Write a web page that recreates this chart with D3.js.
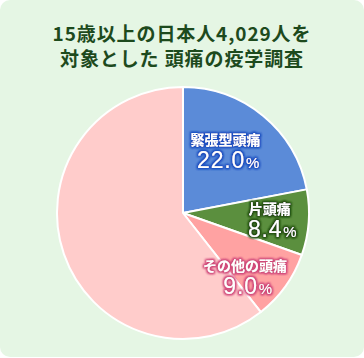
<!DOCTYPE html>
<html><head><meta charset="utf-8">
<script src="https://cdn.jsdelivr.net/npm/d3@7"></script>
<style>
html,body{margin:0;padding:0;background:#fff;}
svg{display:block;}
text{font-family:"Noto Sans CJK JP","Noto Sans",sans-serif;}
</style></head>
<body>
<svg id="c" width="364" height="358"></svg>
<script>
const titleLines = ["15歳以上の日本人4,029人を", "対象とした 頭痛の疫学調査"];
const categories = ["緊張型頭痛", "片頭痛", "その他の頭痛", "頭痛なし"];
const values = [22.0, 8.4, 9.0, 60.6];
const showLabel = [true, true, true, false];
const colors = ["#5b8bd8", "#5b8f3e", "#ffa2a2", "#ffcccb"];
const glowColors = ["#1f4fc0", "#244d12", "#d0487a", "#000"];
// label placement: [radius fraction, angle offset in degrees from slice mid-angle]
const labelPlace = [[0.60, -5.3], [0.69, 0.3], [0.71, 10.4], [0, 0]];

const W = 364, H = 358;
const svg = d3.select("#c");
svg.append("rect").attr("x",0).attr("y",0).attr("width",W).attr("height",H-1)
  .attr("rx",10).attr("ry",10).attr("fill","#e5f6e4");

const defs = svg.append("defs");
glowColors.forEach((c,i)=>{
  const f = defs.append("filter").attr("id","glow"+i)
    .attr("x","-20%").attr("y","-40%").attr("width","140%").attr("height","180%");
  f.append("feMorphology").attr("in","SourceAlpha").attr("operator","dilate").attr("radius",1.3).attr("result","d");
  f.append("feGaussianBlur").attr("in","d").attr("stdDeviation",1.3).attr("result","b");
  f.append("feFlood").attr("flood-color",c).attr("result","fc");
  f.append("feComposite").attr("in","fc").attr("in2","b").attr("operator","in").attr("result","g");
  const m = f.append("feMerge");
  m.append("feMergeNode").attr("in","g");
  m.append("feMergeNode").attr("in","g");
  m.append("feMergeNode").attr("in","SourceGraphic");
});

svg.append("g").selectAll("text").data(titleLines).join("text")
  .attr("x", 182).attr("y",(d,i)=>41+i*24.5)
  .attr("text-anchor","middle").attr("font-size",19).attr("font-weight",700)
  .attr("letter-spacing",0.9)
  .attr("fill","#1d4a1d").text(d=>d);

const cx = 183, cy = 213, R = 126;
const data = categories.map((c,i)=>({cat:c, value:values[i], i}));
const pie = d3.pie().sort(null).value(d=>d.value);
const arcs = pie(data);
const arc = d3.arc().innerRadius(0).outerRadius(R);
const g = svg.append("g").attr("transform",`translate(${cx},${cy})`);
g.selectAll("path").data(arcs).join("path")
  .attr("d",arc).attr("fill",d=>colors[d.data.i])
  .attr("stroke","#fff").attr("stroke-width",2).attr("stroke-linejoin","round");

const lab = g.selectAll("g.lab").data(arcs.filter(d=>showLabel[d.data.i])).join("g")
  .attr("class","lab")
  .attr("filter", d=>`url(#glow${d.data.i})`)
  .attr("transform", d=>{
    const p = labelPlace[d.data.i];
    const a = (d.startAngle+d.endAngle)/2 + p[1]*Math.PI/180;
    const [x,y] = d3.pointRadial(a, p[0]*R);
    return `translate(${x},${y})`;
  });

lab.append("text").attr("text-anchor","middle").attr("y",-6)
  .attr("font-size",14).attr("font-weight",700).attr("fill","#fff").text(d=>d.data.cat);
const t2 = lab.append("text").attr("text-anchor","middle").attr("y",17).attr("x",3)
  .attr("font-size",23).attr("fill","#fff").attr("letter-spacing",0.8)
  .style("font-family","'Liberation Sans',Arial,sans-serif");
t2.append("tspan").text(d=>d.data.value.toFixed(1));
t2.append("tspan").attr("font-size",15).attr("dx",1).text("%");
</script>
</body></html>
